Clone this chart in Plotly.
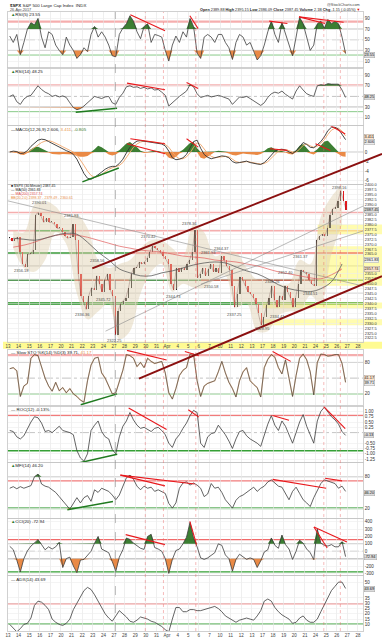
import numpy as np
import plotly.graph_objects as go
from plotly.subplots import make_subplots

W, H = 382, 640
FONT = "Liberation Sans"

# ---------------- data ----------------
day_labels = ["13", "14", "15", "16", "17", "20", "21", "22", "23", "24", "27", "28", "29", "30", "31",
              "Apr", "4", "5", "6", "7", "10", "11", "12", "13", "17", "18", "19", "20", "21", "24",
              "25", "26", "27", "28"]
N_DAYS = 32  # trading days with bars

# 4 closes per day
price_close = [
    2373, 2371.5, 2372.5, 2373.5,
    2366, 2360, 2358.5, 2365,
    2365, 2367, 2385, 2386,
    2384, 2381, 2383, 2381,
    2381, 2380, 2378, 2378,
    2376, 2374, 2373, 2373.5,
    2380, 2372, 2355, 2344,
    2341, 2337, 2344, 2348,
    2347, 2354, 2350, 2346,
    2352, 2355, 2347, 2344,
    2324, 2336, 2340, 2341.5,
    2343, 2348, 2355, 2358,
    2358, 2361, 2360, 2361,
    2363, 2366, 2369, 2368,
    2367, 2366, 2364, 2362.5,
    2360, 2350, 2347, 2358,
    2356, 2358, 2357, 2360,
    2362, 2366, 2377, 2353,
    2355, 2358, 2354, 2357.5,
    2360, 2356, 2358, 2355.5,
    2364, 2362, 2359, 2357,
    2349, 2338, 2345, 2353.5,
    2352, 2349, 2346, 2345,
    2343, 2340, 2335, 2329,
    2333, 2339, 2343, 2349,
    2342, 2338, 2344, 2342,
    2349, 2346, 2343, 2338,
    2343, 2350, 2357, 2356,
    2355, 2352, 2350, 2349,
    2372, 2374, 2375, 2374,
    2378, 2385, 2388, 2388.5,
    2392, 2397, 2392, 2387.45,
]

# one value per day
ma50 = [2373, 2372.5, 2372, 2373, 2374.5, 2375.5, 2375, 2371, 2366, 2362, 2357.5, 2355.5, 2354, 2354,
        2355.5, 2356.5, 2358, 2359.5, 2360.5, 2361, 2360.5, 2358.5, 2356.5, 2355, 2352.5, 2349.5,
        2347.5, 2346.5, 2346, 2347.5, 2351, 2360]
ma200 = [2368.5, 2369.5, 2371, 2373, 2374.5, 2375, 2374.5, 2373.5, 2372, 2370.5, 2369, 2368, 2367,
         2366.5, 2366, 2365, 2364, 2363.5, 2363, 2362, 2361.5, 2361, 2360, 2359, 2357.5, 2356, 2355,
         2354, 2353, 2352.5, 2354.5, 2357.5]
bb_upper = [2377, 2376, 2390, 2392, 2389, 2383, 2385, 2378, 2362, 2358, 2360, 2362, 2368, 2372, 2372,
            2368, 2364, 2380, 2376, 2364, 2366, 2366, 2358, 2352, 2352, 2350, 2350, 2362, 2360, 2384,
            2394, 2400]
bb_lower = [2368, 2358, 2356, 2362, 2376, 2370, 2345, 2332, 2336, 2340, 2322, 2326, 2345, 2356, 2360,
            2346, 2350, 2348, 2348, 2352, 2354, 2338, 2340, 2326, 2326, 2334, 2336, 2336, 2344, 2340,
            2365, 2380]

# 3 values per day
rsi5 = [57, 45, 60, 22, 45, 70, 82, 78, 90, 55, 35, 65, 60, 40, 30, 22, 55, 40, 30, 15, 22, 35, 28, 60,
        75, 55, 65, 55, 40, 20, 18, 60, 72, 80, 95, 85, 65, 52, 75, 80, 45, 60, 58, 55, 30, 10, 40, 57,
        45, 65, 55, 90, 75, 25, 15, 55, 60, 55, 45, 60, 60, 45, 35, 13, 45, 60, 55, 40, 45, 30, 12, 20,
        40, 65, 85, 60, 45, 82, 60, 40, 20, 55, 92, 80, 55, 30, 40, 80, 85, 72, 88, 80, 85, 80, 55, 24]
rsi14 = [50, 53, 40, 35, 45, 50, 52, 60, 70, 63, 58, 55, 50, 52, 49, 51, 48, 38, 29, 25, 27, 32, 38, 45,
         50, 48, 46, 49, 50, 38, 35, 48, 56, 68, 70, 67, 68, 65, 67, 64, 66, 62, 63, 58, 52, 32, 38, 45,
         50, 55, 60, 72, 68, 55, 48, 50, 52, 49, 51, 52, 50, 47, 45, 35, 42, 49, 48, 50, 46, 42, 38, 33,
         38, 48, 55, 58, 56, 60, 54, 50, 45, 60, 70, 62, 55, 52, 50, 70, 72, 71, 74, 73, 73, 73, 62, 48]
macd_line = [0, 0.2, 0.1, -0.3, -0.2, 0.3, 1.2, 1.8, 2.5, 2.7, 2.6, 2.2, 1.8, 1.4, 1.0, 0.7, 0.3, 0,
             -0.5, -1.5, -3.0, -4.5, -5.5, -5.7, -5.3, -4.8, -4.2, -3.6, -3.2, -3.0, -3.0, -2.4, -1.5,
             -0.2, 1.0, 1.8, 2.3, 2.4, 2.3, 2.2, 2.1, 2.0, 1.9, 1.7, 1.3, 0.2, -1.2, -1.6, -1.5, -1.2,
             -0.5, 0.8, 2.2, 2.5, 0.8, -0.5, -1.1, -1.4, -1.2, -0.9, -0.8, -0.9, -1.2, -2.0, -2.3, -2.2,
             -2.0, -1.9, -2.2, -2.4, -2.5, -2.6, -2.2, -1.5, -0.6, 0.2, 0.5, 0.6, 0.4, 0, -0.3, 0.2,
             1.2, 2.0, 1.6, 1.0, 0.9, 1.5, 2.2, 3.2, 4.5, 5.2, 5.2, 4.8, 3.8, 2.6]
macd_signal = [0.1, 0.1, 0.1, 0, -0.1, 0, 0.4, 0.9, 1.5, 2.0, 2.3, 2.4, 2.2, 1.9, 1.5, 1.1, 0.7, 0.4,
               0, -0.6, -1.6, -2.8, -4.0, -4.9, -5.3, -5.1, -4.7, -4.1, -3.6, -3.3, -3.1, -2.8, -2.2,
               -1.2, 0, 1.0, 1.7, 2.1, 2.3, 2.3, 2.2, 2.1, 2.0, 1.8, 1.6, 1.0, 0, -0.9, -1.4, -1.4,
               -1.0, -0.2, 1.0, 1.9, 1.6, 0.6, -0.3, -0.9, -1.2, -1.1, -1.0, -0.9, -1.0, -1.5, -2.0,
               -2.2, -2.1, -2.0, -2.1, -2.3, -2.4, -2.5, -2.4, -2.0, -1.3, -0.4, 0.2, 0.4, 0.5, 0.3, 0,
               0, 0.6, 1.4, 1.7, 1.3, 1.0, 1.2, 1.8, 2.6, 3.7, 4.6, 5.0, 5.0, 4.4, 3.4]
macd_hist = [0, -0.1, -0.2, -0.5, -0.6, -0.2, 0.6, 1.0, 1.1, 0.8, 0.4, -0.1, -0.4, -0.5, -0.5, -0.4,
             -0.4, -0.4, -0.5, -0.8, -1.0, -1.0, -0.8, -0.3, 0.6, 1.3, 1.0, 0.4, -0.5, -0.7, -0.5, 0.4,
             1.2, 1.8, 2.1, 1.6, 1.0, 0.3, -0.2, -0.1, 0.2, 0.3, 0.2, -0.1, -0.4, -1.2, -1.4, -1.0,
             -0.3, 0.5, 1.2, 1.9, 2.1, 0.8, -1.2, -1.4, -1.0, -0.4, 0.1, 0.3, 0.2, -0.1, -0.3, -0.6,
             -0.7, -0.5, -0.3, -0.4, -0.5, -0.6, -0.6, -0.4, 0.2, 0.8, 1.0, 0.6, 0.2, 0.2, -0.1, -0.4,
             -0.5, 0.4, 1.3, 1.7, 0.8, -0.3, -0.5, 0.6, 1.4, 2.2, 2.4, 1.6, 0.6, -0.4, -0.9, -1.0]
sto_k = [68, 70, 64, 15, 35, 40, 88, 95, 93, 70, 50, 35, 25, 42, 26, 32, 22, 30, 20, 15, 8, 4, 45, 75,
         88, 90, 60, 50, 35, 20, 22, 45, 65, 95, 93, 88, 72, 80, 70, 88, 82, 78, 80, 82, 60, 22, 10, 30,
         55, 65, 70, 96, 96, 45, 15, 35, 40, 42, 45, 62, 82, 60, 42, 30, 14, 45, 62, 70, 45, 38, 32, 14,
         70, 86, 95, 90, 70, 58, 85, 50, 15, 55, 88, 96, 85, 62, 18, 80, 96, 95, 92, 93, 95, 95, 78, 42]
roc12 = [0.1, 0.05, -0.2, -0.3, -0.15, 0.2, 0.5, 0.75, 0.7, 0.45, 0.05, 0.1, 0.0, 0.15, 0.3, 0.1, 0.05,
         0.0, -0.1, -0.85, -1.2, -1.35, -1.0, 0.1, 0.35, 0.55, 0.05, -0.2, -0.3, -0.8, -1.0, -0.2, 0.3,
         0.55, 0.95, 0.6, 0.35, 0.2, 0.25, 0.15, 0.05, 0.2, 0.25, 0.1, -0.1, -0.5, -0.7, -0.3, -0.1,
         0.2, 0.45, 0.8, 1.05, 0.95, -0.5, -0.7, -0.2, -0.05, 0.0, 0.35, 0.15, -0.1, -0.4, -0.75, -0.3,
         0.05, 0.1, -0.15, -0.3, -0.4, -0.5, -0.65, -0.1, 0.4, 0.8, 0.35, 0.1, 0.55, 0.3, -0.1, -0.5,
         0.0, 0.5, 0.85, 0.3, -0.1, -0.5, 0.55, 1.0, 1.2, 0.95, 0.75, 0.6, 0.4, 0.05, -0.13]
mfi14 = [58, 61, 57, 61, 58, 60, 63, 80, 85, 66, 62, 60, 55, 50, 42, 33, 26, 18, 28, 40, 30, 40, 44, 33,
         55, 50, 58, 55, 52, 45, 36, 45, 62, 78, 83, 75, 62, 55, 62, 58, 60, 52, 55, 52, 48, 29, 20, 30,
         58, 68, 70, 64, 68, 64, 58, 42, 47, 67, 58, 60, 50, 36, 29, 20, 35, 42, 45, 50, 55, 60, 52, 58,
         62, 70, 74, 68, 62, 60, 48, 36, 52, 60, 48, 36, 30, 23, 40, 55, 67, 74, 72, 70, 67, 58, 62, 52]
cci20 = [67, 22, -120, -280, -100, 5, 70, 110, 157, 90, 20, 60, 30, 60, 120, -220, -100, -80, -200, -290,
         -120, -110, -60, 0, 110, 200, 30, 0, -20, -140, -270, -80, 20, 180, 160, 110, 70, 40, 25, 200,
         230, 50, 30, 0, -100, -300, -110, 10, 30, 100, 190, 390, 180, 60, -90, -110, -90, -60, -20,
         100, 80, -50, -100, -270, -110, -40, -80, -110, -90, -110, -220, -130, -10, 20, 180, 80, 40,
         220, 90, 30, -110, 0, 150, 110, 30, -20, -112, 300, 110, 80, 70, 90, 60, 60, 130, -73]
adx14 = [10, 7, 3, 6, 10, 11, 16, 28, 32, 31, 28, 24, 15, 12, 10, 9, 11, 15, 24, 30, 36, 42, 45, 43, 38,
         32, 26, 20, 16, 13, 18, 23, 20, 17, 13, 12, 14, 17, 16, 15, 13, 12, 10, 8, 5, 3, 15, 26, 26, 22,
         22, 24, 24, 23, 23, 24, 25, 26, 27, 25, 22, 18, 16, 14, 12, 14, 15, 16, 15, 14, 18, 23, 32, 34,
         32, 26, 22, 19, 17, 15, 11, 12, 16, 18, 14, 12, 12, 15, 22, 29, 36, 42, 46, 50, 50, 44]

# hand-drawn trend lines: (panel, day0, value0, day1, value1, colour)
trend_lines = [
    (1, 11.54, 97, 14.81, 67, "red"), (1, 17.15, 95, 17.93, 71, "red"),
    (1, 24.63, 85, 26.35, 80.5, "red"), (1, 27.44, 93, 31.65, 83, "red"), (1, 27.44, 93, 29.9, 80.5, "red"),
    (2, 11.22, 75, 14.81, 62.5, "red"), (2, 16.84, 76, 17.93, 65, "red"), (2, 6.39, 20, 10.29, 27.6, "green"),
    (3, 11.54, 2.78, 14.81, 1.73, "red"), (3, 11.22, 1.73, 14.81, -0.35, "red"),
    (3, 16.84, 2.78, 17.93, 1.04, "red"), (3, 24.7, 0.69, 26.35, 0.35, "red"),
    (3, 29.0, 1.73, 30.4, 0.35, "red"), (3, 30.4, 5.56, 31.8, 3.8, "red"), (3, 7.02, -6.25, 10.45, -3.33, "green"),
    (5, 11.22, 103, 14.96, 84.5, "red"), (5, 16.68, 101, 18.0, 92.7, "red"),
    (5, 24.95, 101, 26.66, 82, "red"), (5, 6.86, -1, 10.29, 20, "green"),
    (6, 11.38, 1.16, 14.96, 0.15, "red"), (6, 17.0, 1.08, 18.0, 0.73, "red"),
    (6, 24.95, 0.81, 26.5, 0.58, "red"), (6, 29.78, 1.23, 31.8, 0.19, "red"), (6, 6.7, -1.43, 10.3, -1.02, "green"),
    (7, 10.6, 83, 17.6, 66, "red"), (7, 10.6, 83, 14.8, 62.5, "red"),
    (7, 24.95, 75, 30.0, 58, "red"), (7, 29.9, 77, 31.5, 72, "red"), (7, 5.6, 17, 9.9, 32.5, "green"),
    (8, 11.1, 225, 14.8, 90, "red"), (8, 17.15, 404, 17.78, 90, "red"),
    (8, 28.85, 328, 30.1, 45, "red"), (8, 28.85, 328, 31.96, 126, "red"),
]
price_trend_gray = [(-0.47, 2392.5, 33.5, 2348.8), (9.2, 2326, 35.3, 2394), (18.2, 2349.8, 35.3, 2379.9)]
price_channel = [(7.95, 2357.8, 35.27, 2415.6), (12.35, 2302.0, 35.27, 2353.8)]
red_vlines = [12.95, 14.66, 17.71, 29.78, 31.34]
gray_vlines = [10.13]
yellow_zones = [(29.2, 2375, 2380), (29.2, 2349, 2369), (24.0, 2337.5, 2340.5), (24.0, 2329, 2332)]
price_marks = [(1.25, 2356.8, "2356.18"), (2.96, 2391.2, "2390.01"), (6.0, 2384.5, "2381.93"),
               (7.0, 2334.3, "2336.36"), (8.4, 2361.5, "2358.56"), (9.0, 2342.0, "2345.72"),
               (10.0, 2321.4, "2322.25"), (13.25, 2374.0, "2370.42"), (15.6, 2343.3, "2344.73"),
               (17.15, 2380.6, "2378.36"), (18.9, 2365.8, "2361.93"), (20.1, 2368.0, "2364.37"),
               (19.2, 2348.4, "2350.58"), (21.4, 2334.4, "2337.25"), (24.0, 2327.6, "2328.95"),
               (25.4, 2333.3, "2334.41"), (24.9, 2351.2, "2348.26"), (27.6, 2363.6, "2361.37"),
               (28.5, 2345.0, "2344.51"), (26.2, 2355.6, "2352.40")]
# current-value tags on the right axes: (panel, position, text, background)
value_tags = [
    (1, 21, "23.55", "#dcdcdc"), (2, 49, "48.25", "#dcdcdc"),
    (3, 3.1, "3.411", "#fde3cc"), (3, 2.1, "2.606", "#ececec"),
    (4, 2387.45, "2387.45", "#dcdcdc"), (4, 2361.8, "2361.83", "#f2f2f2"), (4, 2357.7, "2357.74", "#fde3cc"),
    (5, 50, "41.17", "#fde3cc"), (5, 40.5, "39.71", "#ececec"),
    (6, -0.13, "-0.13", "#dcdcdc"), (7, 49, "46.20", "#dcdcdc"), (8, -73, "-72.94", "#dcdcdc"),
    (9, 43.7, "43.69", "#dcdcdc"),
]

# ---------------- geometry ----------------
X_RANGE = [0, 33.49]
X_DOM = [5 / W, 363 / W]
PANELS = [  # top px, bottom px, value range
    (9, 65, [-2.3, 102.3]),
    (66, 123, [-4.2, 102.3]),
    (124, 182, [-6.67, 5.42]),
    (183, 341, [2320.6, 2400.0]),
    (349, 405, [-2.2, 104.1]),
    (406, 462, [-1.394, 1.235]),
    (463, 518, [1.6, 106.0]),
    (519, 576, [-327, 440]),
    (577, 632, [3.7, 55.4]),
]
TICKS = [
    [10, 30, 50, 70, 90], [10, 30, 50, 70, 90], [-6, -4, -2, 0, 2, 4],
    list(np.arange(2320, 2400.01, 2.5)), [20, 50, 80],
    [-1.25, -1.0, -0.75, -0.5, -0.25, 0, 0.25, 0.5, 0.75, 1.0], [20, 50, 80],
    [-300, -200, -100, 0, 100, 200, 300, 400], [10, 15, 20, 25, 30, 35, 40, 45, 50],
]

d = np.arange(N_DAYS)
x3 = (d[:, None] + (np.arange(3) + 0.5)[None, :] / 3).ravel()
x4 = (d[:, None] + (np.arange(4) + 0.5)[None, :] / 4).ravel()
x1 = d + 0.5

GREEN_FILL = "rgba(50,120,40,0.95)"
ORANGE_FILL = "rgba(233,132,60,0.95)"
LINE = "#3c3c3c"

fig = make_subplots(rows=9, cols=1, shared_xaxes=True, vertical_spacing=0.002)


def names(r):
    s = "" if r == 1 else str(r)
    return "x" + s, "y" + s


def add(tr, r):
    fig.add_trace(tr, row=r, col=1)


def threshold_fill(r, xs, vals, thr, above, color):
    v = np.asarray(vals, float)
    clipped = np.maximum(v, thr) if above else np.minimum(v, thr)
    add(go.Scatter(x=xs, y=np.full(len(xs), float(thr)), mode="lines", line=dict(width=0),
                   hoverinfo="skip"), r)
    add(go.Scatter(x=xs, y=clipped, mode="lines", line=dict(width=0), fill="tonexty",
                   fillcolor=color, hoverinfo="skip"), r)


def osc(r, xs, vals, color=LINE, width=0.8):
    add(go.Scatter(x=xs, y=vals, mode="lines", line=dict(color=color, width=width), hoverinfo="skip"), r)


# RSI(5)
threshold_fill(1, x3, rsi5, 70, True, GREEN_FILL)
threshold_fill(1, x3, rsi5, 30, False, ORANGE_FILL)
osc(1, x3, rsi5)
# RSI(14)
threshold_fill(2, x3, rsi14, 70, True, GREEN_FILL)
threshold_fill(2, x3, rsi14, 30, False, ORANGE_FILL)
osc(2, x3, rsi14)
# MACD
h = np.asarray(macd_hist, float)
add(go.Scatter(x=x3, y=np.maximum(h, 0), mode="lines", line=dict(width=0), fill="tozeroy",
               fillcolor=GREEN_FILL, hoverinfo="skip"), 3)
add(go.Scatter(x=x3, y=np.minimum(h, 0), mode="lines", line=dict(width=0), fill="tozeroy",
               fillcolor=ORANGE_FILL, hoverinfo="skip"), 3)
osc(3, x3, macd_signal, "#f2a66a", 0.9)
osc(3, x3, macd_line, "#333333", 0.9)
# Price
add(go.Scatter(x=x1, y=bb_upper, mode="lines", line=dict(width=0, shape="spline"), hoverinfo="skip"), 4)
add(go.Scatter(x=x1, y=bb_lower, mode="lines", line=dict(width=0, shape="spline"), fill="tonexty",
               fillcolor="rgba(222,206,172,0.45)", hoverinfo="skip"), 4)
add(go.Scatter(x=x1, y=ma200, mode="lines", line=dict(color="rgba(226,95,95,0.9)", width=0.8, shape="spline"),
               hoverinfo="skip"), 4)
add(go.Scatter(x=x1, y=ma50, mode="lines", line=dict(color="#5a5a5a", width=0.8, shape="spline"),
               hoverinfo="skip"), 4)
pc = np.asarray(price_close, float)
po = np.concatenate([[pc[0]], pc[:-1]])
body_lo = np.minimum(po, pc)
body_h = np.maximum(np.abs(pc - po), 0.6)
bar_col = np.where(pc >= po, "#1a1a1a", "#e3191c")
add(go.Scatter(x=x4, y=pc, mode="lines", line=dict(color="rgba(90,40,40,0.55)", width=0.5),
               hoverinfo="skip"), 4)
add(go.Bar(x=x4, y=body_h, base=body_lo, width=0.12, marker=dict(color=bar_col, line=dict(width=0)),
           hoverinfo="skip"), 4)
# Slow STO (%K black over a faint orange %D-like underlay)
osc(5, x3, sto_k, "rgba(232,145,70,0.5)", 1.2)
osc(5, x3, sto_k, "#3a3a3a", 0.65)
# ROC
osc(6, x3, roc12)
# MFI
threshold_fill(7, x3, mfi14, 80, True, GREEN_FILL)
threshold_fill(7, x3, mfi14, 20, False, ORANGE_FILL)
osc(7, x3, mfi14)
# CCI
threshold_fill(8, x3, cci20, 100, True, GREEN_FILL)
threshold_fill(8, x3, cci20, -100, False, ORANGE_FILL)
osc(8, x3, cci20)
# ADX
osc(9, x3, adx14)


# ---------------- axes ----------------
def val_to_px(r, v):
    top, bot, rng = PANELS[r - 1]
    return bot - (v - rng[0]) / (rng[1] - rng[0]) * (bot - top)


for r, (top, bot, rng) in enumerate(PANELS, start=1):
    xkey = "xaxis" + ("" if r == 1 else str(r))
    ykey = "yaxis" + ("" if r == 1 else str(r))
    tag_px = [val_to_px(r, t[1]) for t in value_tags if t[0] == r]
    tv = [v for v in TICKS[r - 1] if all(abs(val_to_px(r, v) - tp) > 4.6 for tp in tag_px)]
    if r == 4:
        tt = [f"{v:.1f}" for v in tv]
    elif r == 6:
        tt = [f"{v:.2f}" for v in tv]
    else:
        tt = [str(v) for v in tv]
    fsize = 3.9 if r == 4 else 4.5
    fig.layout[ykey].update(domain=[1 - bot / H, 1 - top / H], range=rng, side="right",
                            tickvals=tv, ticktext=tt, tickfont=dict(size=fsize, color="#333", family=FONT),
                            showgrid=True, gridcolor="#ececec", gridwidth=0.6, zeroline=False,
                            showline=True, linecolor="#c4c4c4", linewidth=0.8, mirror=True,
                            ticks="", fixedrange=True)
    fig.layout[xkey].update(domain=X_DOM, range=X_RANGE, tickvals=list(range(len(day_labels))),
                            ticktext=day_labels, showticklabels=(r in (4, 9)),
                            tickfont=dict(size=4.5, color="#444", family=FONT),
                            showgrid=True, gridcolor="#e4e4e4", gridwidth=0.6, zeroline=False,
                            showline=True, linecolor="#c4c4c4", linewidth=0.8, mirror=True,
                            ticks="", rangeslider=dict(visible=False), fixedrange=True)


def xpaper(day):
    return X_DOM[0] + (day - X_RANGE[0]) / (X_RANGE[1] - X_RANGE[0]) * (X_DOM[1] - X_DOM[0])


def ypaper_price(p):
    top, bot, rng = PANELS[3]
    y0, y1 = 1 - bot / H, 1 - top / H
    return y0 + (p - rng[0]) / (rng[1] - rng[0]) * (y1 - y0)


shapes = []


def hline(r, val, color, width, dash="solid", x0=None, x1=None, layer="below"):
    xa, ya = names(r)
    if x0 is None:
        shapes.append(dict(type="line", xref=xa + " domain", x0=0, x1=1, yref=ya, y0=val, y1=val,
                           line=dict(color=color, width=width, dash=dash), layer=layer))
    else:
        shapes.append(dict(type="line", xref=xa, x0=x0, x1=x1, yref=ya, y0=val, y1=val,
                           line=dict(color=color, width=width, dash=dash), layer=layer))


PINK = "rgba(238,120,120,0.6)"
GRAY = "#9c9c9c"
hline(1, 84, PINK, 2.2); hline(1, 70, GRAY, 0.8); hline(1, 50, GRAY, 0.6, "dashdot")
hline(1, 30, GRAY, 0.8); hline(1, 21.3, "#7cc47c", 0.9)
hline(2, 71, PINK, 2.2); hline(2, 50, GRAY, 0.6, "dashdot"); hline(2, 30, GRAY, 0.8)
hline(2, 21.3, "#7cc47c", 0.9)
hline(3, 0, GRAY, 0.6)
hline(5, 94, PINK, 2.2); hline(5, 80, GRAY, 0.8); hline(5, 50, GRAY, 0.6, "dashdot")
hline(5, 20, "#5cb85c", 1.0)
hline(6, 0.81, "rgba(238,90,90,0.8)", 1.2); hline(6, 0, GRAY, 0.6, "dashdot"); hline(6, -0.86, "#35a035", 1.4)
hline(7, 80, GRAY, 0.8); hline(7, 72, "rgba(238,90,90,0.8)", 1.2); hline(7, 20, "rgba(60,160,60,0.6)", 2.4)
hline(8, 157, "rgba(238,80,80,0.85)", 1.2); hline(8, 103, GRAY, 0.8); hline(8, 0, GRAY, 0.6, "dashdot")
hline(8, -103, GRAY, 0.8); hline(8, -278, "#35a035", 1.2)
hline(9, 29.5, "#e84040", 1.2); hline(9, 10.3, "#35a035", 1.2)

# price panel levels
RED_LVL = "rgba(236,85,85,0.75)"
hline(4, 2386.0, PINK, 1.5)
hline(4, 2376.8, PINK, 1.5)
hline(4, 2376.8, "#4caf50", 1.3, x0=2.6, x1=5.8)
hline(4, 2365.6, "#3a9a3a", 1.5, x0=0, x1=11.7)
hline(4, 2365.6, RED_LVL, 1.5, x0=11.7, x1=33.49)
hline(4, 2359.0, "#aaaaaa", 0.7)
hline(4, 2351.7, "#5a9a5a", 1.5)
hline(4, 2351.7, RED_LVL, 1.5, x0=6.3, x1=11.4)
hline(4, 2351.7, RED_LVL, 1.5, x0=18.2, x1=29.2)
hline(4, 2345.2, "#aaaaaa", 0.7)
hline(4, 2340.0, "#1e8c1e", 2.5)

for (dx, lo, hi) in yellow_zones:
    shapes.append(dict(type="rect", xref="paper", x0=xpaper(dx), x1=1.0, yref="y4", y0=lo, y1=hi,
                       fillcolor="rgba(255,250,110,0.55)", line=dict(width=0), layer="below"))
shapes.append(dict(type="rect", xref="paper", x0=0, x1=1, yref="paper", y0=1 - 348 / H, y1=1 - 341 / H,
                   fillcolor="rgba(255,250,110,0.75)", line=dict(width=0), layer="below"))

for (a0, p0, a1, p1) in price_trend_gray:
    shapes.append(dict(type="line", xref="x4", yref="y4", x0=a0, y0=p0, x1=a1, y1=p1,
                       line=dict(color="#8c8c8c", width=0.6)))

for (r, a0, v0, a1, v1, c) in trend_lines:
    xa, ya = names(r)
    col = "#e8181c" if c == "red" else "#1f7a1f"
    shapes.append(dict(type="line", xref=xa, yref=ya, x0=a0, y0=v0, x1=a1, y1=v1,
                       line=dict(color=col, width=1.1 if c == "red" else 1.5)))

for v in red_vlines:
    shapes.append(dict(type="line", xref="x", yref="paper", x0=v, x1=v, y0=1 - 632 / H, y1=1 - 9 / H,
                       line=dict(color="rgba(232,90,90,0.6)", width=0.7, dash="dot")))
for v in gray_vlines:
    shapes.append(dict(type="line", xref="x", yref="paper", x0=v, x1=v, y0=1 - 632 / H, y1=1 - 9 / H,
                       line=dict(color="#8a8a8a", width=0.6, dash="dash")))

for (a0, p0, a1, p1) in price_channel:
    shapes.append(dict(type="line", xref="paper", yref="paper", x0=xpaper(a0), y0=ypaper_price(p0),
                       x1=xpaper(a1), y1=ypaper_price(p1), line=dict(color="#8b1010", width=2)))

# ---------------- text ----------------
ann = []


def txt(xpx, ypx, text, size=4.8, anchor="left", color="#222"):
    ann.append(dict(xref="paper", yref="paper", x=xpx / W, y=1 - ypx / H, text=text, showarrow=False,
                    xanchor=anchor, yanchor="middle", font=dict(size=size, color=color, family=FONT)))


txt(5, 2.3, "<b>$SPX</b> S&P 500 Large Cap Index  INDX", 4.4)
txt(5, 6.9, "26-Apr-2017", 3.8, color="#444")
txt(362, 2.3, "@StockCharts.com", 3.8, "right", "#444")
txt(362, 6.9, "<b>Open</b> 2389.88 <b>High</b> 2395.15 <b>Low</b> 2386.09 <b>Close</b> 2387.45 "
              "<b>Volume</b> 2.1B <b>Chg</b> -1.15 (-0.05%) <span style='color:#d00'>▼</span>", 3.8, "right")

G = "<span style='color:#2e7d32'>▲</span>"
txt(6, 11.8, G + "RSI(5) 23.55", 4.4)
txt(6, 68.8, G + "RSI(14) 48.25", 4.4)
txt(6, 126.8, "<span style='color:#000'>—</span>MACD(12,26,9) 2.606, <span style='color:#e8904a'>3.411</span>, "
               "<span style='color:#3a7a2a'>-0.805</span>", 4.4)
txt(6, 184.2, "<b>■</b> $SPX (30 Minute) 2387.45", 3.5)
txt(6, 188.2, "— MA(50) 2361.83", 3.5)
txt(6, 192.2, "<span style='color:#e05050'>— MA(200) 2357.74</span>", 3.5)
txt(6, 196.2, "<span style='color:#e8904a'>BB(20,2.0) 2398.37 - 2379.49 - 2360.61</span>", 3.5)
txt(6, 351.8, "— Slow STO %K(14) %D(3) 39.71, <span style='color:#e8904a'>41.17</span>", 4.4)
txt(6, 408.8, "— ROC(12) -0.13%", 4.4)
txt(6, 465.8, G + "MFI(14) 46.20", 4.4)
txt(6, 521.8, G + "CCI(20) -72.94", 4.4)
txt(6, 579.8, "— ADX(14) 43.69", 4.4)

for (dx, p, t) in price_marks:
    ann.append(dict(xref="x4", yref="y4", x=dx, y=p, text=t, showarrow=False,
                    font=dict(size=4.0, color="#505050", family=FONT)))
ann.append(dict(xref="x4", yref="paper", x=31.3, y=1 - 181.0 / H, text="2398.16", showarrow=False,
                font=dict(size=4.0, color="#505050", family=FONT)))

for (r, val, text, bg) in value_tags:
    xa, ya = names(r)
    ann.append(dict(xref="paper", yref=ya, x=364 / W, y=val, text=text, showarrow=False, xanchor="left",
                    yanchor="middle", bgcolor=bg, bordercolor="#999", borderwidth=0.4, borderpad=0,
                    font=dict(size=3.9, color="#111", family=FONT)))

fig.update_layout(width=W, height=H, margin=dict(l=0, r=0, t=0, b=0), showlegend=False,
                  paper_bgcolor="white", plot_bgcolor="rgba(0,0,0,0)", bargap=0,
                  font=dict(family=FONT, size=5, color="#222"),
                  shapes=shapes, annotations=ann)

fig.write_html("out.html", config={"displayModeBar": False, "staticPlot": True})
